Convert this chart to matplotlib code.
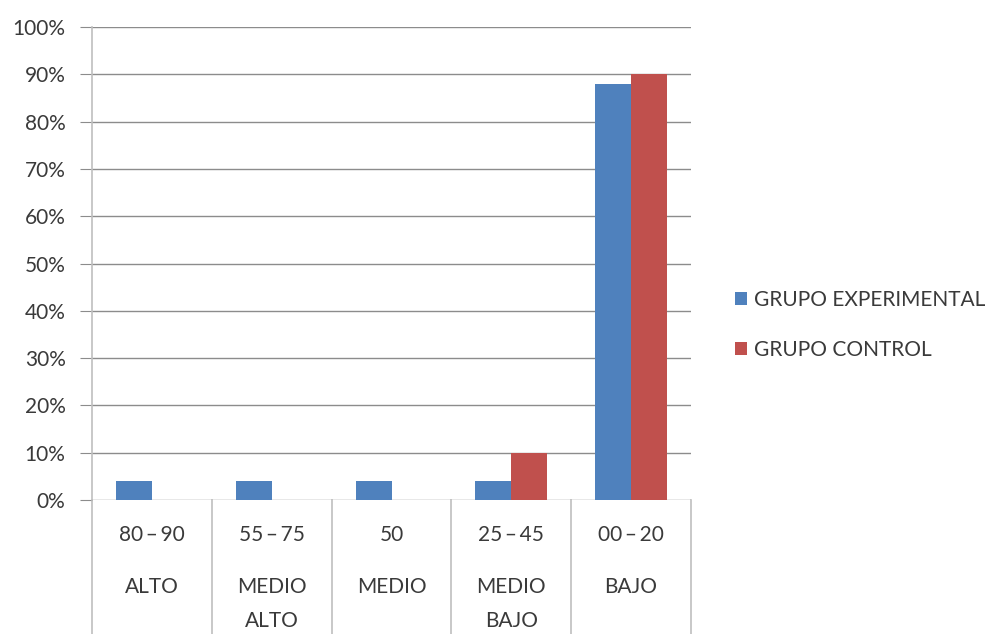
import matplotlib
matplotlib.use("Agg")
import matplotlib.pyplot as plt
import matplotlib.transforms as mtransforms
import numpy as np

plt.rcParams['font.family'] = ['Lato', 'DejaVu Sans']

rangos = ["80\u2009–\u200990", "55\u2009–\u200975", "50", "25\u2009–\u200945", "00\u2009–\u200920"]
niveles = ["ALTO", "MEDIO\nALTO", "MEDIO", "MEDIO\nBAJO", "BAJO"]
experimental = [4, 4, 4, 4, 88]
control = [0, 0, 0, 10, 90]
series_names = ["GRUPO EXPERIMENTAL", "GRUPO CONTROL"]
yticks = list(range(0, 101, 10))

blue = "#4F81BD"
red = "#C0504D"
text_col = "#3A3A3A"
grid_col = "#8C8C8C"
fs = 15

fig = plt.figure(figsize=(9.95, 6.34), dpi=100)
ax = fig.add_axes([92/995, 1 - 500/634, (691 - 92)/995, (500 - 27)/634])

x = np.arange(len(rangos))
w = 0.3
b1 = ax.bar(x - w/2, experimental, w, color=blue, label=series_names[0], zorder=3)
b2 = ax.bar(x + w/2, control, w, color=red, label=series_names[1], zorder=3)

ax.set_xlim(-0.5, len(rangos) - 0.5)
ax.set_ylim(0, 100)
ax.set_yticks(yticks)
ax.set_yticklabels([f"{v}%" for v in yticks], fontsize=fs, color=text_col)
ax.yaxis.grid(True, color=grid_col, linewidth=1.0, zorder=0)
ax.tick_params(axis='y', length=9, color=grid_col, pad=10)
ax.set_xticks([])

for s in ["top", "right", "bottom"]:
    ax.spines[s].set_visible(False)
ax.spines["left"].set_color("#BFBFBF")
ax.spines["left"].set_linewidth(1.2)

# category table below the axis
trans = mtransforms.blended_transform_factory(ax.transData, ax.transAxes)
for i, (r, n) in enumerate(zip(rangos, niveles)):
    ax.text(i, -35/473, r, transform=trans, ha="center", va="center",
            fontsize=fs, color=text_col)
    ax.text(i, -77/473, n, transform=trans, ha="center", va="top",
            fontsize=fs, color=text_col, linespacing=1.85)
for b in np.arange(len(rangos) + 1) - 0.5:
    ax.plot([b, b], [0, -0.4], transform=trans, color="#BFBFBF",
            linewidth=1.2, clip_on=False, zorder=1)

leg = fig.legend(handles=[b1, b2], labels=series_names, loc="center left",
                 bbox_to_anchor=(716/995, 1 - 325/634), frameon=False,
                 fontsize=fs, handlelength=0.6, handleheight=0.6,
                 handletextpad=0.3, labelspacing=1.45, labelcolor=text_col)

fig.savefig("out.png", dpi=100)
